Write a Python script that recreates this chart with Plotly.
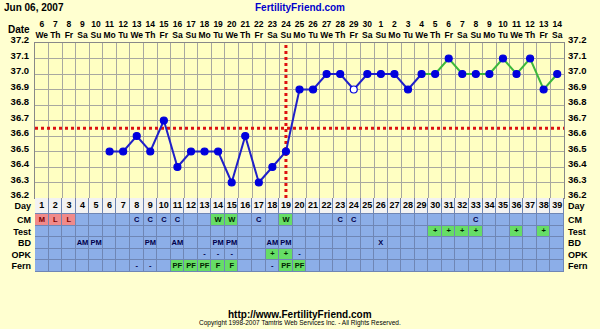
import plotly.graph_objects as go

# ---------------- data ----------------
cycle_days = list(range(1, 40))
dates = list(range(6, 31)) + list(range(1, 15))
weekdays = (["We", "Th", "Fr", "Sa", "Su", "Mo", "Tu"] * 6)[:39]
temps = [None, None, None, None, None,
         36.5, 36.5, 36.6, 36.5, 36.7, 36.4, 36.5, 36.5, 36.5, 36.3,
         36.6, 36.3, 36.4, 36.5, 36.9, 36.9, 37.0, 37.0, 36.9, 37.0,
         37.0, 37.0, 36.9, 37.0, 37.0, 37.1, 37.0, 37.0, 37.0, 37.1,
         37.0, 37.1, 36.9, 37.0]
discarded_days = [24]
green_from_day = 29
cover_line = 36.65
ovulation_day = 19
temp_ticks = [36.2, 36.3, 36.4, 36.5, 36.6, 36.7, 36.8, 36.9, 37.0, 37.1, 37.2]

row_names = ["Day", "CM", "Test", "BD", "OPK", "Fern"]
cm_text = {1: "M", 2: "L", 3: "L", 8: "C", 9: "C", 10: "C", 11: "C", 14: "W",
           15: "W", 17: "C", 19: "W", 23: "C", 24: "C", 33: "C"}
cm_pink = [1, 2, 3]
cm_green = [14, 15, 19]
test_text = {30: "+", 31: "+", 32: "+", 33: "+", 36: "+", 38: "+"}
test_green = [30, 31, 32, 33, 36, 38]
bd_text = {4: "AM", 5: "PM", 9: "PM", 11: "AM", 14: "PM", 15: "PM",
           18: "AM", 19: "PM", 26: "X"}
opk_text = {13: "-", 14: "-", 15: "-", 18: "+", 19: "+", 20: "-"}
opk_green = [18, 19]
fern_text = {8: "-", 9: "-", 11: "PF", 12: "PF", 13: "PF", 14: "F", 15: "F",
             18: "-", 19: "PF", 20: "PF"}
fern_green = [11, 12, 13, 14, 15, 19, 20]

# ---------------- styles ----------------
FONT = "Liberation Sans"
PAPER = "#FFFFD0"
PLOT = "#FFFFC2"
BLUE_CELL = "#8CAEE8"
PINK_CELL = "#F08A8A"
GREEN_CELL = "#66DD66"
DAY_CELL = "#F2F2F2"
BORDER = "#6F86B5"
LINE_BLUE = "#2020C8"
LINE_GREEN = "#3CB83C"
MARK_BLUE = "#0000DD"
DAY_ROW_H = 16.0
ROW_H = 11.6

fig = go.Figure()

# ---------------- table (heatmap) ----------------
row_edges = [0.0, DAY_ROW_H]
for _ in range(5):
    row_edges.append(row_edges[-1] + ROW_H)
row_centers = [(a + b) / 2 for a, b in zip(row_edges[:-1], row_edges[1:])]
table_h = row_edges[-1]

row_texts = [cm_text, test_text, bd_text, opk_text, fern_text]
row_greens = [cm_green, test_green, [], opk_green, fern_green]
row_pinks = [cm_pink, [], [], [], []]

z = [[0] * len(cycle_days)]
for r in range(5):
    zr = []
    for d in cycle_days:
        if d in row_pinks[r]:
            zr.append(2)
        elif d in row_greens[r]:
            zr.append(3)
        else:
            zr.append(1)
    z.append(zr)

fig.add_trace(go.Heatmap(
    x=cycle_days, y=row_edges, z=z, xaxis="x2", yaxis="y2",
    zmin=0, zmax=3, showscale=False, hoverinfo="skip", xgap=1, ygap=1,
    colorscale=[[0, DAY_CELL], [0.167, DAY_CELL], [0.167, BLUE_CELL], [0.5, BLUE_CELL],
                [0.5, PINK_CELL], [0.833, PINK_CELL], [0.833, GREEN_CELL], [1, GREEN_CELL]],
))

# day numbers
fig.add_trace(go.Scatter(
    x=cycle_days, y=[row_centers[0]] * len(cycle_days), text=[str(d) for d in cycle_days],
    mode="text", xaxis="x2", yaxis="y2",
    textfont=dict(family=FONT, size=9, color="#000000", weight="bold"),
    hoverinfo="skip", showlegend=False,
))
tx, ty, tt, tc = [], [], [], []
for r in range(5):
    for d, s in row_texts[r].items():
        tx.append(d); ty.append(row_centers[r + 1]); tt.append(s)
        if d in row_pinks[r]:
            tc.append("#7A0000")
        elif d in row_greens[r]:
            tc.append("#002200")
        else:
            tc.append("#00004A")
fig.add_trace(go.Scatter(
    x=tx, y=ty, text=tt, mode="text", xaxis="x2", yaxis="y2",
    textfont=dict(family=FONT, size=7.5, color=tc, weight="bold"),
    hoverinfo="skip", showlegend=False,
))
# right-side row labels axis
fig.add_trace(go.Scatter(x=[cycle_days[0]], y=[row_centers[0]], xaxis="x2", yaxis="y4",
                         mode="markers", marker=dict(opacity=0), hoverinfo="skip",
                         showlegend=False))

# ---------------- temperature chart ----------------
fig.add_trace(go.Scatter(
    x=[cycle_days[0] - 0.5, cycle_days[-1] + 0.5], y=[cover_line, cover_line],
    mode="lines", line=dict(color="#DD1111", width=3, dash="dot"),
    hoverinfo="skip", showlegend=False))
fig.add_trace(go.Scatter(
    x=[ovulation_day, ovulation_day], y=[temp_ticks[0], temp_ticks[-1]],
    mode="lines", line=dict(color="#DD1111", width=3, dash="dot"),
    hoverinfo="skip", showlegend=False))

blue_x = [d for d, t in zip(cycle_days, temps) if t is not None and d <= green_from_day]
blue_y = [t for d, t in zip(cycle_days, temps) if t is not None and d <= green_from_day]
green_x = [d for d, t in zip(cycle_days, temps) if t is not None and d >= green_from_day]
green_y = [t for d, t in zip(cycle_days, temps) if t is not None and d >= green_from_day]

fig.add_trace(go.Scatter(x=blue_x, y=blue_y, mode="lines",
                         line=dict(color=LINE_BLUE, width=2), hoverinfo="skip",
                         showlegend=False))
fig.add_trace(go.Scatter(x=green_x, y=green_y, mode="lines",
                         line=dict(color=LINE_GREEN, width=2), hoverinfo="skip",
                         showlegend=False))

mx = [d for d, t in zip(cycle_days, temps) if t is not None]
my = [t for t in temps if t is not None]
mfill = ["#FFFFFF" if d in discarded_days else MARK_BLUE for d in mx]
fig.add_trace(go.Scatter(x=mx, y=my, mode="markers",
                         marker=dict(size=7, color=mfill,
                                     line=dict(color=MARK_BLUE, width=1.2)),
                         showlegend=False))
# right temp axis holder
fig.add_trace(go.Scatter(x=[cycle_days[0]], y=[cover_line], yaxis="y3",
                         mode="markers", marker=dict(opacity=0), hoverinfo="skip",
                         showlegend=False))

tickfont = dict(family=FONT, size=9.5, color="#000000", weight="bold")
rowfont = dict(family=FONT, size=9, color="#000000", weight="bold")
hdrfont = dict(family=FONT, size=8.5, color="#000000", weight="bold")
DOM_SPLIT = table_h / 229

fig.update_layout(
    width=600, height=329, paper_bgcolor=PAPER, plot_bgcolor=BORDER,
    margin=dict(l=35, r=36, t=43, b=57),
    showlegend=False,
    xaxis=dict(domain=[0, 1], anchor="y", range=[0.5, 39.5], side="top",
               tickmode="array", tickvals=cycle_days, tickangle=0,
               ticktext=[f"{d}<br>{w}" for d, w in zip(dates, weekdays)],
               ticks="", showgrid=False, zeroline=False, tickfont=hdrfont,
               showline=True, linecolor="#888888", mirror=True, ticklabelstandoff=1,
               minor=dict(tick0=0.5, dtick=1, showgrid=True, gridcolor="#A8A8A0",
                          gridwidth=1, ticks="")),
    yaxis=dict(domain=[DOM_SPLIT, 1], anchor="x", range=[36.2, 37.2],
               tickmode="array", tickvals=temp_ticks,
               ticktext=[f"{t:.1f}" for t in temp_ticks],
               showgrid=True, gridcolor="#A8A8A0", gridwidth=1, zeroline=False,
               ticks="", tickfont=tickfont, showline=True, linecolor="#888888",
               mirror=True, ticklabelstandoff=3, ticklabelshift=-3),
    yaxis3=dict(overlaying="y", side="right", range=[36.2, 37.2],
                tickmode="array", tickvals=temp_ticks,
                ticktext=[f"{t:.1f}" for t in temp_ticks],
                showgrid=False, zeroline=False, ticks="", tickfont=tickfont,
                ticklabelstandoff=3, ticklabelshift=-3),
    xaxis2=dict(domain=[0, 1], anchor="y2", range=[0.5, 39.5], visible=False),
    yaxis2=dict(domain=[0, DOM_SPLIT], anchor="x2", range=[table_h, 0],
                tickmode="array", tickvals=row_centers, ticktext=row_names,
                showgrid=False, zeroline=False, ticks="", tickfont=rowfont,
                ticklabelstandoff=3),
    yaxis4=dict(overlaying="y2", side="right", range=[table_h, 0],
                tickmode="array", tickvals=row_centers, ticktext=row_names,
                showgrid=False, zeroline=False, ticks="", tickfont=rowfont,
                ticklabelstandoff=3),
    shapes=[dict(type="rect", xref="x domain", yref="y domain", x0=0, x1=1, y0=0, y1=1,
                 fillcolor=PLOT, line=dict(width=0), layer="below")],
    annotations=[
        dict(text="Jun 06, 2007", xref="paper", yref="paper", x=-33 / 529, y=1 + 36 / 229,
             xanchor="left", yanchor="middle", showarrow=False,
             font=dict(family=FONT, size=10, color="#000000", weight="bold")),
        dict(text="FertilityFriend.com", xref="paper", yref="paper", x=0.5,
             y=1 + 36 / 229, xanchor="center", yanchor="middle", showarrow=False,
             font=dict(family=FONT, size=10, color="#0000CC", weight="bold")),
        dict(text="Date", xref="paper", yref="paper", x=-3 / 529, y=1 + 14 / 229,
             xanchor="right", yanchor="middle", showarrow=False,
             font=dict(family=FONT, size=10, color="#000000", weight="bold")),
        dict(text="http://www.FertilityFriend.com", xref="paper", yref="paper",
             x=0.5, y=-42 / 229, xanchor="center", yanchor="middle", showarrow=False,
             font=dict(family=FONT, size=10, color="#000000", weight="bold")),
        dict(text="Copyright 1998-2007 Tamtris Web Services Inc. - All Rights Reserved.",
             xref="paper", yref="paper", x=0.5, y=-51 / 229, xanchor="center",
             yanchor="middle", showarrow=False,
             font=dict(family=FONT, size=6.5, color="#000000")),
    ],
)

fig.write_html("out.html")
